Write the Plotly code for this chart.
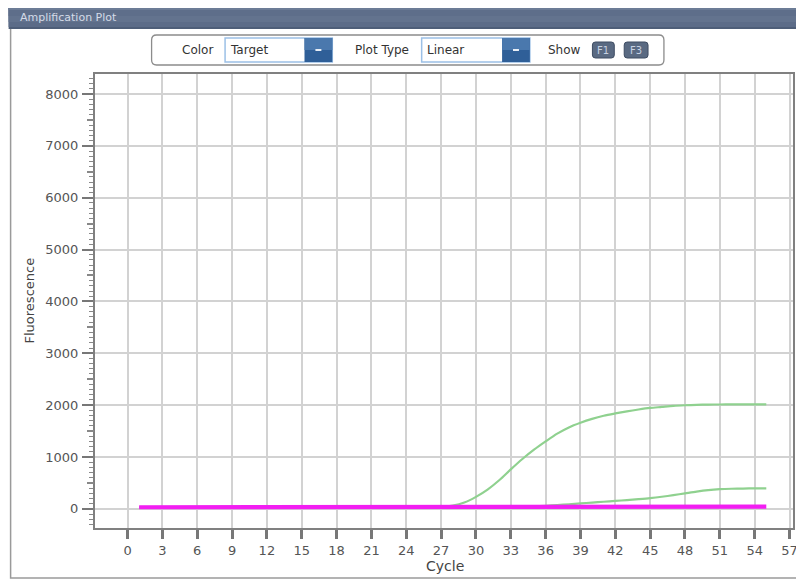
import plotly.graph_objects as go

# ---------------- data ----------------
cycles = list(range(1, 56))

green_high = [30, 28, 27, 26, 25, 25, 24, 24, 24, 24,
              24, 24, 24, 24, 25, 25, 25, 25, 26, 26,
              26, 27, 27, 28, 29, 30, 35, 60, 120, 230,
              370, 550, 760, 960, 1140, 1300, 1450, 1570, 1660, 1735,
              1795, 1840, 1880, 1915, 1945, 1965, 1985, 1997, 2005, 2010,
              2012, 2013, 2014, 2015, 2015]

green_low = [20, 20, 20, 20, 20, 20, 20, 20, 20, 20,
             20, 20, 20, 20, 20, 20, 20, 20, 20, 20,
             20, 20, 20, 20, 20, 20, 21, 22, 23, 24,
             25, 28, 32, 38, 46, 58, 72, 88, 104, 120,
             136, 152, 168, 185, 205, 232, 264, 298, 332, 360,
             378, 387, 391, 393, 393]

magenta = [30, 30, 30, 30, 30, 30, 30, 30, 30, 31,
           31, 31, 31, 31, 32, 32, 32, 32, 33, 33,
           33, 33, 34, 34, 34, 34, 35, 35, 35, 35,
           36, 36, 36, 36, 37, 37, 37, 37, 38, 38,
           38, 38, 39, 39, 39, 40, 40, 40, 40, 41,
           41, 41, 42, 42, 42]

x_ticks = list(range(0, 58, 3))
y_ticks = list(range(0, 8001, 1000))
y_mid_ticks = list(range(500, 8000, 1000))

title_text = "Amplification Plot"
x_title = "Cycle"
y_title = "Fluorescence"

# ---------------- layout geometry ----------------
# page body has an 8px margin, so figure pixel = screen pixel - 8
OFF = 8
W, H = 804 - OFF, 582 - OFF
PL, PR, PT, PB = 95 - OFF, 798 - OFF, 74 - OFF, 528 - OFF  # plot area (figure px)


def px(x):
    return (x - OFF - PL) / (PR - PL)


def py(y):
    return (PB - (y - OFF)) / (PB - PT)


def rrect(x0, y0, x1, y1, r):
    X0, X1 = px(x0), px(x1)
    Y0, Y1 = py(y0), py(y1)
    rx = r / (PR - PL)
    ry = r / (PB - PT)
    return (f"M {X0+rx},{Y0} L {X1-rx},{Y0} Q {X1},{Y0} {X1},{Y0-ry} "
            f"L {X1},{Y1+ry} Q {X1},{Y1} {X1-rx},{Y1} L {X0+rx},{Y1} "
            f"Q {X0},{Y1} {X0},{Y1+ry} L {X0},{Y0-ry} Q {X0},{Y0} {X0+rx},{Y0} Z")


fig = go.Figure()

fig.add_trace(go.Scatter(x=cycles, y=green_high, mode="lines",
                         line=dict(color="#8fd18f", width=2.2, shape="spline",
                                   smoothing=0.8),
                         hoverinfo="skip", showlegend=False))
fig.add_trace(go.Scatter(x=cycles, y=green_low, mode="lines",
                         line=dict(color="#8fd18f", width=2.2, shape="spline",
                                   smoothing=0.8),
                         hoverinfo="skip", showlegend=False))
fig.add_trace(go.Scatter(x=cycles, y=magenta, mode="lines",
                         line=dict(color="#f21ef2", width=4.2),
                         hoverinfo="skip", showlegend=False))
# helper trace for the half-way (500) ticks on y axis
fig.add_trace(go.Scatter(x=[None], y=[None], yaxis="y2", showlegend=False,
                         hoverinfo="skip"))

shapes = []
annotations = []

# outer panel border
shapes.append(dict(type="rect", xref="paper", yref="paper",
                   x0=px(10), x1=px(803), y0=py(578), y1=py(28),
                   line=dict(color="#9a9a9a", width=1.5), fillcolor="rgba(0,0,0,0)",
                   layer="below"))
# title bar (gradient approximation, overlapping bands so no seams)
bar_top, bar_bot = 7, 29
shapes.append(dict(type="rect", xref="paper", yref="paper",
                   x0=px(8), x1=px(805), y0=py(bar_bot), y1=py(bar_top),
                   line=dict(width=0), fillcolor="#4e5e78", layer="above"))
bands = [(7, 27, "#5c6c88"), (7, 22, "#63738e"), (7, 16, "#5e6e8a"),
         (7, 10, "#6c7c96")]
for t, b, c in bands:
    shapes.append(dict(type="rect", xref="paper", yref="paper",
                       x0=px(8), x1=px(805), y0=py(b), y1=py(t),
                       line=dict(width=0), fillcolor=c, layer="above"))
annotations.append(dict(text=title_text, xref="paper", yref="paper",
                        x=px(17), y=py(18), xanchor="left", yanchor="middle",
                        showarrow=False,
                        font=dict(family="DejaVu Sans", size=11, color="#d4dbe8")))

# toolbar box
shapes.append(dict(type="path", xref="paper", yref="paper",
                   path=rrect(152, 35, 668, 65, 5),
                   line=dict(color="#8c8c8c", width=1.3), fillcolor="white"))


def dropdown(x0, x1, label):
    shapes.append(dict(type="rect", xref="paper", yref="paper",
                       x0=px(x0), x1=px(x1), y0=py(62), y1=py(38),
                       line=dict(color="#9cc0e6", width=1.5), fillcolor="white"))
    shapes.append(dict(type="rect", xref="paper", yref="paper",
                       x0=px(x1 - 28), x1=px(x1), y0=py(62), y1=py(38),
                       line=dict(width=0), fillcolor="#2f5f98"))
    shapes.append(dict(type="rect", xref="paper", yref="paper",
                       x0=px(x1 - 28), x1=px(x1), y0=py(50), y1=py(38),
                       line=dict(width=0), fillcolor="#4a78ad"))
    shapes.append(dict(type="rect", xref="paper", yref="paper",
                       x0=px(x1 - 17), x1=px(x1 - 11), y0=py(51), y1=py(49),
                       line=dict(width=0), fillcolor="#e8eef6"))
    annotations.append(dict(text=label, xref="paper", yref="paper",
                            x=px(x0 + 3), y=py(50), xanchor="left", yanchor="middle",
                            showarrow=False,
                            font=dict(family="DejaVu Sans", size=12, color="#333333")))


dropdown(226, 334, "Target")
dropdown(424, 533, "Linear")

for lbl, cx in [("Color", 198), ("Plot Type", 384), ("Show", 568)]:
    annotations.append(dict(text=lbl, xref="paper", yref="paper",
                            x=px(cx), y=py(50), xanchor="center", yanchor="middle",
                            showarrow=False,
                            font=dict(family="DejaVu Sans", size=12, color="#333333")))

for lbl, x0, x1 in [("F1", 596, 618), ("F3", 628, 652)]:
    shapes.append(dict(type="path", xref="paper", yref="paper",
                       path=rrect(x0, 42, x1, 58, 3),
                       line=dict(color="#3e4c62", width=1), fillcolor="#5a6a82"))
    annotations.append(dict(text=lbl, xref="paper", yref="paper",
                            x=px((x0 + x1) / 2), y=py(50), xanchor="center",
                            yanchor="middle", showarrow=False,
                            font=dict(family="DejaVu Sans", size=10, color="#c8d2e2")))

# axis titles
annotations.append(dict(text=x_title, xref="paper", yref="paper",
                        x=px(448), y=py(566), xanchor="center", yanchor="middle",
                        showarrow=False,
                        font=dict(family="DejaVu Sans", size=14, color="#444444")))
annotations.append(dict(text=y_title, xref="paper", yref="paper",
                        x=px(29), y=py(300), xanchor="center", yanchor="middle",
                        textangle=-90, showarrow=False,
                        font=dict(family="DejaVu Sans", size=13, color="#444444")))

YR = [-370, 8385]
XR = [-2.8, 57.3]

fig.update_layout(
    width=W, height=H,
    margin=dict(l=PL, r=W - PR, t=PT, b=H - PB, pad=0),
    paper_bgcolor="white", plot_bgcolor="white",
    shapes=shapes, annotations=annotations,
    xaxis=dict(range=XR, tickmode="array", tickvals=x_ticks,
               ticks="outside", ticklen=9, tickwidth=2.5, tickcolor="#777777",
               showgrid=True, gridcolor="#d2d2d2", gridwidth=2.2,
               showline=True, linecolor="#808080", linewidth=2.2, mirror=True,
               zeroline=False, ticklabelstandoff=0,
               tickfont=dict(family="DejaVu Sans", size=13, color="#555555")),
    yaxis=dict(range=YR, tickmode="array", tickvals=y_ticks,
               ticks="outside", ticklen=11, tickwidth=2, tickcolor="#777777",
               showgrid=True, gridcolor="#d2d2d2", gridwidth=2.2,
               showline=True, linecolor="#808080", linewidth=2.2, mirror=True,
               zeroline=False, ticklabelstandoff=1,
               minor=dict(dtick=100, tick0=0, ticks="outside", ticklen=4,
                          tickwidth=1.3, tickcolor="#888888", showgrid=False),
               tickfont=dict(family="DejaVu Sans", size=13, color="#555555")),
    yaxis2=dict(range=YR, overlaying="y", side="left", tickmode="array",
                tickvals=y_mid_ticks, ticks="outside", ticklen=7, tickwidth=1.5,
                tickcolor="#888888", showticklabels=False, showgrid=False,
                zeroline=False, showline=False),
)

fig.write_html("out.html")
